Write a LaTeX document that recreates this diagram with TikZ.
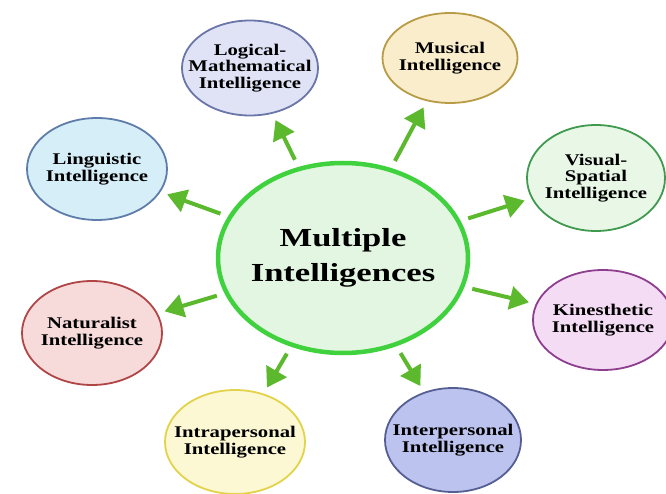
\documentclass[tikz,border=0pt]{standalone}
\usepackage{fontspec}
\setmainfont{Liberation Serif}
\newfontfamily\bubblefont[FakeStretch=1.27]{Liberation Serif}
\newfontfamily\centrefont[FakeStretch=1.33]{Liberation Serif}
\usepackage{xcolor}
\usepackage{tikz}
\usetikzlibrary{shapes.geometric,arrows.meta}

\definecolor{arrowgreen}{HTML}{5CB82C}
\definecolor{midgreen}{HTML}{3FD23E}
\definecolor{midfill}{HTML}{E3F6E1}
\definecolor{lmfill}{HTML}{E0E3F6}  \definecolor{lmline}{HTML}{6A76A8}
\definecolor{mufill}{HTML}{FAEDCB}  \definecolor{muline}{HTML}{B79B45}
\definecolor{vsfill}{HTML}{E8F7E6}  \definecolor{vsline}{HTML}{3F9A4F}
\definecolor{kifill}{HTML}{F4DCF4}  \definecolor{kiline}{HTML}{8E3E8E}
\definecolor{lifill}{HTML}{D6EEF8}  \definecolor{liline}{HTML}{5E7DAA}
\definecolor{nafill}{HTML}{F7DADA}  \definecolor{naline}{HTML}{B04545}
\definecolor{iafill}{HTML}{FBF8D3}  \definecolor{ialine}{HTML}{E2D34A}
\definecolor{iefill}{HTML}{BCC3EE}  \definecolor{ieline}{HTML}{565F93}

\begin{document}
\begin{tikzpicture}[x=1pt,y=-1pt,
        bubble/.style={ellipse,draw,line width=1.8pt,inner sep=0pt},
        bubbletext/.style={align=center,inner sep=0pt,
            font=\bubblefont\bfseries\fontsize{16.3}{16.8}\selectfont},
        link/.style={draw=arrowgreen,line width=4pt,
            -{Triangle[width=23pt,length=19pt]},shorten <=8pt,shorten >=7pt}]
        \useasboundingbox (0,0) rectangle (666,494);

        % Centre ellipse
        \node[ellipse,draw=midgreen,fill=midfill,line width=4.5pt,inner sep=0pt,
            minimum width=250pt,minimum height=190pt] (mi) at (343,258) {};
        \node[align=center,font=\centrefont\bfseries\fontsize{26}{35}\selectfont] (mitext) at (mi) {Multiple\\Intelligences};

        % Outer ellipses
        \node[bubble,draw=lmline,fill=lmfill,minimum width=136pt,minimum height=95pt] (lm) at (250,68) {};
        \node[bubble,draw=muline,fill=mufill,minimum width=135pt,minimum height=90pt] (mu) at (450,58) {};
        \node[bubble,draw=vsline,fill=vsfill,minimum width=138pt,minimum height=106pt] (vs) at (596,178) {};
        \node[bubble,draw=kiline,fill=kifill,minimum width=140pt,minimum height=100pt] (ki) at (603,320) {};
        \node[bubble,draw=liline,fill=lifill,minimum width=140pt,minimum height=102pt] (li) at (97,169) {};
        \node[bubble,draw=naline,fill=nafill,minimum width=140pt,minimum height=104pt] (na) at (92,333) {};
        \node[bubble,draw=ialine,fill=iafill,minimum width=140pt,minimum height=104pt] (ia) at (235,442) {};
        \node[bubble,draw=ieline,fill=iefill,minimum width=136pt,minimum height=104pt] (ie) at (453,440) {};

        % Texts of the outer ellipses
        \node[bubbletext] (lmtext) at (lm) {Logical-\\Mathematical\\Intelligence};
        \node[bubbletext] (mutext) at (mu) {Musical\\Intelligence};
        \node[bubbletext] (vstext) at (vs) {Visual-\\Spatial\\Intelligence};
        \node[bubbletext] (kitext) at (ki) {Kinesthetic\\Intelligence};
        \node[bubbletext] (litext) at (li) {Linguistic\\Intelligence};
        \node[bubbletext] (natext) at (na) {Naturalist\\Intelligence};
        \node[bubbletext] (iatext) at (ia) {Intrapersonal\\Intelligence};
        \node[bubbletext] (ietext) at (ie) {Interpersonal\\Intelligence};

        % Arrows from the centre
        \draw[link] (mi) -- (lm);
        \draw[link] (mi) -- (mu);
        \draw[link] (mi) -- (vs);
        \draw[link] (mi) -- (ki);
        \draw[link] (mi) -- (li);
        \draw[link] (mi) -- (na);
        \draw[link] (mi) -- (ia);
        \draw[link] (mi) -- (ie);

    \end{tikzpicture}
\end{document}
